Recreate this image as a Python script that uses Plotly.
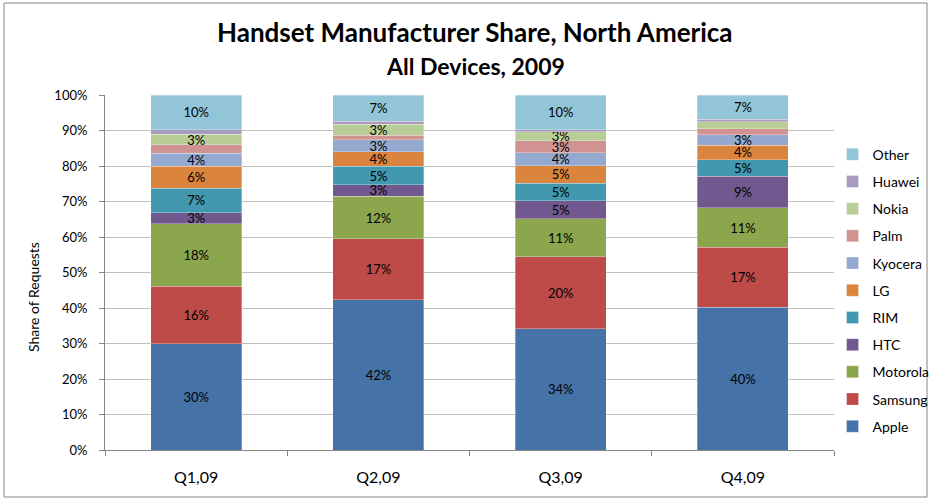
import plotly.graph_objects as go

quarters = ["Q1,09", "Q2,09", "Q3,09", "Q4,09"]
series = ["Apple", "Samsung", "Motorola", "HTC", "RIM", "LG", "Kyocera", "Palm", "Nokia", "Huawei", "Other"]

apple    = [30.0, 42.3, 34.2, 40.2]
samsung  = [16.1, 17.2, 20.3, 16.9]
motorola = [17.6, 12.0, 10.7, 11.1]
htc      = [3.2, 3.3, 5.1, 9.0]
rim      = [6.9, 5.1, 4.9, 4.6]
lg       = [6.2, 4.2, 4.9, 4.1]
kyocera  = [3.6, 3.4, 3.7, 2.9]
palm     = [2.4, 1.2, 3.3, 1.8]
nokia    = [3.0, 3.1, 2.6, 1.9]
huawei   = [1.3, 0.9, 0.6, 0.7]
other    = [9.7, 7.3, 9.7, 6.8]

# which data labels are displayed in the original
show_label = {
    "Apple": [1, 1, 1, 1], "Samsung": [1, 1, 1, 1], "Motorola": [1, 1, 1, 1],
    "HTC": [1, 1, 1, 1], "RIM": [1, 1, 1, 1], "LG": [1, 1, 1, 1],
    "Kyocera": [1, 1, 1, 1], "Palm": [0, 0, 1, 0], "Nokia": [1, 1, 1, 0],
    "Huawei": [0, 0, 0, 0], "Other": [1, 1, 1, 1],
}

values = [apple, samsung, motorola, htc, rim, lg, kyocera, palm, nokia, huawei, other]
colors = ["#4572A7", "#BE4B48", "#8BA64C", "#71588F", "#4198AF", "#DB843D",
          "#93A9CF", "#D19392", "#B9CD96", "#A99BBD", "#92C5D7"]

FONT = "Lato, Calibri, Carlito, sans-serif"

fig = go.Figure()
n = len(series)
for i, (name, vals, col) in enumerate(zip(series, values, colors)):
    texts = [f"{round(v)}%" if s else "" for v, s in zip(vals, show_label[name])]
    fig.add_trace(go.Bar(
        name=name, x=quarters, y=[v / 100 for v in vals],
        marker=dict(color=col, line=dict(width=0.6, color="rgba(255,255,255,0.5)")),
        text=texts, textposition="inside", insidetextanchor="middle",
        constraintext="none",
        textangle=0, textfont=dict(size=13, color="black", family=FONT),
        legendgroup=name, legendrank=n - i, hoverinfo="name+y",
    ))

fig.update_layout(
    barmode="stack", bargap=0.5,
    width=931, height=500,
    margin=dict(l=105, r=97, t=95, b=50, autoexpand=False),
    paper_bgcolor="white", plot_bgcolor="white",
    font=dict(family=FONT, size=14, color="black"),
    legend=dict(traceorder="grouped", tracegroupgap=6,
                x=0.998, xanchor="left", y=0.877, yanchor="top",
                font=dict(size=14, family=FONT), itemwidth=30,
                bgcolor="rgba(0,0,0,0)"),
    showlegend=True,
)

fig.update_yaxes(range=[0, 1.0004], tickformat=".0%", dtick=0.1,
                 showgrid=True, gridcolor="#BFBFBF", gridwidth=1,
                 showline=True, linecolor="#868686", linewidth=1,
                 ticks="outside", ticklen=5, tickcolor="#868686",
                 ticklabelstandoff=9,
                 tickfont=dict(size=13, family=FONT), zeroline=False)
fig.update_xaxes(showline=True, linecolor="#868686", linewidth=1,
                 ticks="outside", ticklen=5, tickcolor="#868686",
                 tickson="boundaries", ticklabelstandoff=13,
                 tickfont=dict(size=16, family=FONT))

# Titles
fig.add_annotation(text="<b>Handset Manufacturer Share, North America</b>",
                   xref="paper", yref="paper", x=(475 - 105) / 729, y=(450 - 32) / 355,
                   showarrow=False, font=dict(size=26, family=FONT, color="black"),
                   xanchor="center", yanchor="middle")
fig.add_annotation(text="<b>All Devices, 2009</b>",
                   xref="paper", yref="paper", x=(475 - 105) / 729, y=(450 - 66) / 355,
                   showarrow=False, font=dict(size=23, family=FONT, color="black"),
                   xanchor="center", yanchor="middle")
fig.add_annotation(text="Share of Requests", textangle=-90,
                   xref="paper", yref="paper", x=(33 - 105) / 729, y=(450 - 297) / 355,
                   showarrow=False, font=dict(size=14, family=FONT, color="black"),
                   xanchor="center", yanchor="middle")

# chart-area border
fig.add_shape(type="rect", xref="paper", yref="paper",
              x0=(4 - 105) / 729, x1=(927 - 105) / 729,
              y0=(450 - 497) / 355, y1=(450 - 3) / 355,
              line=dict(color="#868686", width=1), fillcolor="rgba(0,0,0,0)", layer="below")

fig.write_html("out.html", config={"displayModeBar": False},
               post_script="document.body.style.margin='0';document.body.style.overflow='hidden';")
